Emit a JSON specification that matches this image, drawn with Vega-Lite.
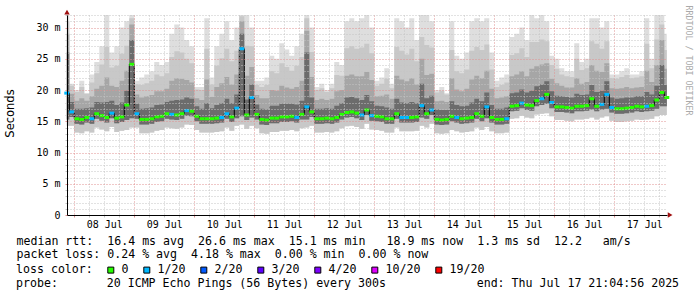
{
"$schema": "https://vega.github.io/schema/vega-lite/v6.json",
"width": 600, "height": 200,
"autosize": "none",
"padding": {"left": 67, "top": 15, "right": 30, "bottom": 82},
"background": "#ffffff",
"config": {"view": {"stroke": null}, "axis": {"labelFont": "DejaVu Sans Mono", "labelFontSize": 10, "labelColor": "#000000"}},
"title": {"text": "probe:\u00a0\u00a0\u00a0\u00a0\u00a0\u00a0\u00a020 ICMP Echo Pings (56 Bytes) every 300s\u00a0\u00a0\u00a0\u00a0\u00a0\u00a0\u00a0\u00a0\u00a0\u00a0\u00a0\u00a0\u00a0end: Thu Jul 17 21:04:56 2025",
 "orient": "bottom", "anchor": "start", "frame": "group", "dx": -51, "offset": 2, "baseline": "top",
 "font": "DejaVu Sans Mono", "fontSize": 11.6, "fontWeight": "normal", "color": "#000000"},
"data": {"values": [
{"t":"2025-07-07T21:00","m":19.5,"l":"1/20","lo":14.3,"lo2":15.3,"c":26,"b":29,"a":31,"mx":32},
{"t":"2025-07-07T23:00","m":16.5,"l":"1/20","lo":14.3,"lo2":15.7,"c":18.1,"b":19.4,"a":20.7,"mx":21},
{"t":"2025-07-08T01:00","m":15.4,"l":"0","lo":13.2,"lo2":14.6,"c":17.0,"b":18.3,"a":19.7,"mx":20},
{"t":"2025-07-08T03:00","m":15.3,"l":"0","lo":13.1,"lo2":14.5,"c":17.0,"b":18.7,"a":20.5,"mx":21.5},
{"t":"2025-07-08T05:00","m":15.6,"l":"0","lo":13.4,"lo2":14.8,"c":17.1,"b":18.3,"a":19.4,"mx":19.5},
{"t":"2025-07-08T07:00","m":15.4,"l":"1/20","lo":13.2,"lo2":14.6,"c":17.2,"b":19.0,"a":21.2,"mx":22.5},
{"t":"2025-07-08T09:00","m":16.2,"l":"0","lo":14.0,"lo2":15.4,"c":18.1,"b":20.2,"a":22.7,"mx":24.5},
{"t":"2025-07-08T11:00","m":15.9,"l":"0","lo":13.7,"lo2":15.1,"c":18.0,"b":20.7,"a":24.1,"mx":27},
{"t":"2025-07-08T13:00","m":15.6,"l":"0","lo":13.4,"lo2":14.8,"c":18.1,"b":22.0,"a":26.9,"mx":32},
{"t":"2025-07-08T15:00","m":16.3,"l":"1/20","lo":14.1,"lo2":15.5,"c":18.3,"b":20.7,"a":23.6,"mx":26},
{"t":"2025-07-08T17:00","m":15.5,"l":"0","lo":13.3,"lo2":14.7,"c":17.6,"b":20.5,"a":23.9,"mx":27},
{"t":"2025-07-08T19:00","m":15.7,"l":"0","lo":13.5,"lo2":14.9,"c":18.0,"b":21.5,"a":25.8,"mx":30},
{"t":"2025-07-08T21:00","m":17.6,"l":"0","lo":13.6,"lo2":15.2,"c":19.9,"b":23.1,"a":27.1,"mx":31},
{"t":"2025-07-08T23:00","m":24.1,"l":"0","lo":14.0,"lo2":15.5,"c":28,"b":30.5,"a":31.5,"mx":32},
{"t":"2025-07-09T01:00","m":16.2,"l":"1/20","lo":14.0,"lo2":15.4,"c":17.8,"b":19.3,"a":20.9,"mx":21.5},
{"t":"2025-07-09T03:00","m":15.3,"l":"0","lo":13.1,"lo2":14.5,"c":17.0,"b":18.8,"a":20.8,"mx":22},
{"t":"2025-07-09T05:00","m":15.3,"l":"0","lo":13.1,"lo2":14.5,"c":17.1,"b":19.0,"a":21.1,"mx":22.5},
{"t":"2025-07-09T07:00","m":15.4,"l":"0","lo":13.2,"lo2":14.6,"c":17.2,"b":19.2,"a":21.5,"mx":23},
{"t":"2025-07-09T09:00","m":15.7,"l":"0","lo":13.5,"lo2":14.9,"c":17.6,"b":19.8,"a":22.5,"mx":24.5},
{"t":"2025-07-09T11:00","m":15.8,"l":"0","lo":13.6,"lo2":15.0,"c":17.7,"b":19.8,"a":22.2,"mx":24},
{"t":"2025-07-09T13:00","m":16.2,"l":"0","lo":14.0,"lo2":15.4,"c":18.1,"b":20.2,"a":22.7,"mx":24.5},
{"t":"2025-07-09T15:00","m":16.1,"l":"1/20","lo":13.9,"lo2":15.3,"c":18.3,"b":21.5,"a":25.3,"mx":29},
{"t":"2025-07-09T17:00","m":16.0,"l":"0","lo":13.8,"lo2":15.2,"c":18.4,"b":21.9,"a":26.2,"mx":30.5},
{"t":"2025-07-09T19:00","m":16.2,"l":"0","lo":14.0,"lo2":15.4,"c":18.5,"b":21.8,"a":26.0,"mx":30},
{"t":"2025-07-09T21:00","m":16.7,"l":"1/20","lo":14.5,"lo2":15.9,"c":18.8,"b":21.6,"a":25.0,"mx":28},
{"t":"2025-07-09T23:00","m":16.6,"l":"0","lo":14.4,"lo2":15.8,"c":18.6,"b":21.2,"a":24.3,"mx":27},
{"t":"2025-07-10T01:00","m":15.8,"l":"0","lo":13.6,"lo2":15.0,"c":17.4,"b":18.7,"a":20.1,"mx":20.5},
{"t":"2025-07-10T03:00","m":15.4,"l":"0","lo":13.2,"lo2":14.6,"c":17.0,"b":18.4,"a":20.0,"mx":20.5},
{"t":"2025-07-10T05:00","m":15.4,"l":"0","lo":13.2,"lo2":14.6,"c":17.9,"b":21.7,"a":26.6,"mx":31.5},
{"t":"2025-07-10T07:00","m":15.4,"l":"0","lo":13.2,"lo2":14.6,"c":17.1,"b":18.9,"a":20.9,"mx":22},
{"t":"2025-07-10T09:00","m":15.5,"l":"0","lo":13.3,"lo2":14.7,"c":17.6,"b":20.5,"a":23.9,"mx":27},
{"t":"2025-07-10T11:00","m":15.6,"l":"1/20","lo":13.4,"lo2":14.8,"c":17.9,"b":21.1,"a":25.1,"mx":29},
{"t":"2025-07-10T13:00","m":16.2,"l":"1/20","lo":14.0,"lo2":15.4,"c":18.6,"b":22.1,"a":26.6,"mx":31},
{"t":"2025-07-10T15:00","m":15.7,"l":"0","lo":13.5,"lo2":14.9,"c":17.9,"b":20.9,"a":24.6,"mx":28},
{"t":"2025-07-10T17:00","m":17.1,"l":"1/20","lo":14.3,"lo2":15.5,"c":19.3,"b":22.5,"a":26.3,"mx":30},
{"t":"2025-07-10T19:00","m":26.6,"l":"1/20","lo":14.5,"lo2":15.8,"c":29,"b":31,"a":31.8,"mx":32},
{"t":"2025-07-10T21:00","m":16.0,"l":"0","lo":13.8,"lo2":15.2,"c":18.5,"b":22.3,"a":27.1,"mx":32},
{"t":"2025-07-10T23:00","m":18.8,"l":"1/20","lo":14.3,"lo2":15.6,"c":20.9,"b":23.7,"a":27.0,"mx":30},
{"t":"2025-07-11T01:00","m":16.1,"l":"0","lo":13.9,"lo2":15.3,"c":17.7,"b":19.2,"a":20.8,"mx":21.5},
{"t":"2025-07-11T03:00","m":15.3,"l":"0","lo":13.1,"lo2":14.5,"c":17.0,"b":18.7,"a":20.5,"mx":21.5},
{"t":"2025-07-11T05:00","m":15.2,"l":"0","lo":13.0,"lo2":14.4,"c":16.9,"b":18.7,"a":20.8,"mx":22},
{"t":"2025-07-11T07:00","m":15.5,"l":"0","lo":13.3,"lo2":14.7,"c":17.5,"b":20.0,"a":23.0,"mx":25.5},
{"t":"2025-07-11T09:00","m":15.5,"l":"0","lo":13.3,"lo2":14.7,"c":17.5,"b":19.9,"a":22.7,"mx":25},
{"t":"2025-07-11T11:00","m":15.7,"l":"0","lo":13.5,"lo2":14.9,"c":17.8,"b":20.7,"a":24.3,"mx":27.5},
{"t":"2025-07-11T13:00","m":15.7,"l":"0","lo":13.5,"lo2":14.9,"c":17.8,"b":20.4,"a":23.7,"mx":26.5},
{"t":"2025-07-11T15:00","m":15.8,"l":"0","lo":13.6,"lo2":15.0,"c":17.8,"b":20.2,"a":23.1,"mx":25.5},
{"t":"2025-07-11T17:00","m":15.6,"l":"1/20","lo":13.4,"lo2":14.8,"c":17.7,"b":20.5,"a":23.9,"mx":27},
{"t":"2025-07-11T19:00","m":16.1,"l":"0","lo":13.9,"lo2":15.3,"c":18.3,"b":21.5,"a":25.3,"mx":29},
{"t":"2025-07-11T21:00","m":17.3,"l":"1/20","lo":14.0,"lo2":15.3,"c":26,"b":29.5,"a":31.5,"mx":32},
{"t":"2025-07-11T23:00","m":16.5,"l":"0","lo":14.3,"lo2":15.7,"c":18.8,"b":22.1,"a":26.1,"mx":30},
{"t":"2025-07-12T01:00","m":15.4,"l":"0","lo":13.2,"lo2":14.6,"c":17.0,"b":18.4,"a":20.0,"mx":20.5},
{"t":"2025-07-12T03:00","m":15.4,"l":"0","lo":13.2,"lo2":14.6,"c":17.0,"b":18.6,"a":20.3,"mx":21},
{"t":"2025-07-12T05:00","m":15.5,"l":"0","lo":13.3,"lo2":14.7,"c":17.1,"b":18.4,"a":19.7,"mx":20},
{"t":"2025-07-12T07:00","m":15.4,"l":"0","lo":13.2,"lo2":14.6,"c":17.0,"b":18.6,"a":20.3,"mx":21},
{"t":"2025-07-12T09:00","m":15.6,"l":"0","lo":13.4,"lo2":14.8,"c":17.5,"b":19.8,"a":22.4,"mx":24.5},
{"t":"2025-07-12T11:00","m":16.1,"l":"0","lo":13.9,"lo2":15.3,"c":17.9,"b":20.0,"a":22.3,"mx":24},
{"t":"2025-07-12T13:00","m":16.4,"l":"0","lo":14.2,"lo2":15.6,"c":18.8,"b":22.3,"a":26.7,"mx":31},
{"t":"2025-07-12T15:00","m":16.5,"l":"0","lo":14.3,"lo2":15.7,"c":18.9,"b":22.5,"a":27.0,"mx":31.5},
{"t":"2025-07-12T17:00","m":16.3,"l":"0","lo":14.1,"lo2":15.5,"c":18.7,"b":22.2,"a":26.6,"mx":31},
{"t":"2025-07-12T19:00","m":16.0,"l":"1/20","lo":13.8,"lo2":15.2,"c":18.4,"b":22.2,"a":26.8,"mx":31.5},
{"t":"2025-07-12T21:00","m":16.8,"l":"0","lo":14.6,"lo2":16.0,"c":19.2,"b":22.9,"a":27.4,"mx":32},
{"t":"2025-07-12T23:00","m":15.9,"l":"1/20","lo":13.7,"lo2":15.1,"c":18.2,"b":21.6,"a":25.9,"mx":30},
{"t":"2025-07-13T01:00","m":15.8,"l":"0","lo":13.6,"lo2":15.0,"c":17.5,"b":19.0,"a":20.7,"mx":21.5},
{"t":"2025-07-13T03:00","m":15.7,"l":"0","lo":13.5,"lo2":14.9,"c":17.4,"b":19.1,"a":21.0,"mx":22},
{"t":"2025-07-13T05:00","m":15.4,"l":"0","lo":13.2,"lo2":14.6,"c":17.2,"b":19.3,"a":21.8,"mx":23.5},
{"t":"2025-07-13T07:00","m":15.4,"l":"0","lo":13.2,"lo2":14.6,"c":17.0,"b":18.6,"a":20.3,"mx":21},
{"t":"2025-07-13T09:00","m":16.2,"l":"0","lo":14.0,"lo2":15.4,"c":18.6,"b":22.3,"a":26.9,"mx":31.5},
{"t":"2025-07-13T11:00","m":15.6,"l":"1/20","lo":13.4,"lo2":14.8,"c":18.0,"b":21.7,"a":26.3,"mx":31},
{"t":"2025-07-13T13:00","m":15.6,"l":"1/20","lo":13.4,"lo2":14.8,"c":17.9,"b":21.4,"a":25.7,"mx":30},
{"t":"2025-07-13T15:00","m":15.6,"l":"0","lo":13.4,"lo2":14.8,"c":18.1,"b":21.9,"a":26.6,"mx":31.5},
{"t":"2025-07-13T17:00","m":15.7,"l":"0","lo":13.5,"lo2":14.9,"c":17.9,"b":20.9,"a":24.6,"mx":28},
{"t":"2025-07-13T19:00","m":17.5,"l":"1/20","lo":14.3,"lo2":15.6,"c":21.0,"b":25.0,"a":28.5,"mx":32},
{"t":"2025-07-13T21:00","m":16.2,"l":"0","lo":14.0,"lo2":15.4,"c":18.7,"b":22.4,"a":27.2,"mx":32},
{"t":"2025-07-13T23:00","m":16.8,"l":"1/20","lo":14.6,"lo2":16.0,"c":19.1,"b":22.6,"a":26.8,"mx":31},
{"t":"2025-07-14T01:00","m":15.3,"l":"0","lo":13.1,"lo2":14.5,"c":16.9,"b":18.2,"a":19.6,"mx":20},
{"t":"2025-07-14T03:00","m":15.2,"l":"0","lo":13.0,"lo2":14.4,"c":16.8,"b":18.3,"a":19.9,"mx":20.5},
{"t":"2025-07-14T05:00","m":15.3,"l":"0","lo":13.1,"lo2":14.5,"c":16.8,"b":18.1,"a":19.3,"mx":19.5},
{"t":"2025-07-14T07:00","m":15.8,"l":"0","lo":13.6,"lo2":15.0,"c":18.2,"b":21.9,"a":26.4,"mx":31},
{"t":"2025-07-14T09:00","m":15.6,"l":"1/20","lo":13.4,"lo2":14.8,"c":17.6,"b":20.1,"a":23.0,"mx":25.5},
{"t":"2025-07-14T11:00","m":15.4,"l":"0","lo":13.2,"lo2":14.6,"c":17.4,"b":19.8,"a":22.7,"mx":25},
{"t":"2025-07-14T13:00","m":15.5,"l":"0","lo":13.3,"lo2":14.7,"c":17.5,"b":20.2,"a":23.3,"mx":26},
{"t":"2025-07-14T15:00","m":15.6,"l":"0","lo":13.4,"lo2":14.8,"c":18.0,"b":21.7,"a":26.3,"mx":31},
{"t":"2025-07-14T17:00","m":16.2,"l":"0","lo":14.0,"lo2":15.4,"c":18.6,"b":22.3,"a":26.9,"mx":31.5},
{"t":"2025-07-14T19:00","m":15.8,"l":"0","lo":13.6,"lo2":15.0,"c":18.2,"b":21.9,"a":26.4,"mx":31},
{"t":"2025-07-14T21:00","m":17.3,"l":"1/20","lo":14.1,"lo2":15.5,"c":19.6,"b":23.1,"a":27.3,"mx":31.5},
{"t":"2025-07-14T23:00","m":15.6,"l":"0","lo":13.4,"lo2":14.8,"c":17.6,"b":20.2,"a":23.3,"mx":26},
{"t":"2025-07-15T01:00","m":15.3,"l":"0","lo":13.1,"lo2":14.5,"c":17.0,"b":18.7,"a":20.5,"mx":21.5},
{"t":"2025-07-15T03:00","m":15.3,"l":"0","lo":13.1,"lo2":14.5,"c":17.0,"b":18.8,"a":20.8,"mx":22},
{"t":"2025-07-15T05:00","m":15.4,"l":"1/20","lo":13.2,"lo2":14.6,"c":17.2,"b":19.0,"a":21.2,"mx":22.5},
{"t":"2025-07-15T07:00","m":17.4,"l":"0","lo":15.4,"lo2":16.6,"c":19.5,"b":22.2,"a":25.6,"mx":28.5},
{"t":"2025-07-15T09:00","m":17.5,"l":"0","lo":15.5,"lo2":16.7,"c":19.6,"b":22.5,"a":25.9,"mx":29},
{"t":"2025-07-15T11:00","m":17.9,"l":"1/20","lo":15.9,"lo2":17.1,"c":20.1,"b":23.0,"a":26.7,"mx":30},
{"t":"2025-07-15T13:00","m":17.6,"l":"0","lo":15.6,"lo2":16.8,"c":19.6,"b":22.2,"a":25.3,"mx":28},
{"t":"2025-07-15T15:00","m":17.5,"l":"0","lo":15.5,"lo2":16.7,"c":19.9,"b":23.4,"a":27.7,"mx":32},
{"t":"2025-07-15T17:00","m":18.3,"l":"0","lo":16.1,"lo2":17.4,"c":20.6,"b":23.8,"a":27.7,"mx":31.5},
{"t":"2025-07-15T19:00","m":18.6,"l":"1/20","lo":16.2,"lo2":17.6,"c":20.9,"b":24.1,"a":28.1,"mx":32},
{"t":"2025-07-15T21:00","m":19.3,"l":"0","lo":16.3,"lo2":17.8,"c":21.4,"b":24.3,"a":27.8,"mx":31},
{"t":"2025-07-15T23:00","m":18.0,"l":"1/20","lo":15.8,"lo2":17.1,"c":19.8,"b":21.8,"a":24.0,"mx":25.5},
{"t":"2025-07-16T01:00","m":17.3,"l":"0","lo":15.2,"lo2":16.5,"c":19.1,"b":21.1,"a":23.4,"mx":25},
{"t":"2025-07-16T03:00","m":17.3,"l":"0","lo":15.2,"lo2":16.5,"c":19.0,"b":20.7,"a":22.5,"mx":23.5},
{"t":"2025-07-16T05:00","m":17.2,"l":"0","lo":15.1,"lo2":16.4,"c":18.9,"b":20.4,"a":22.2,"mx":23},
{"t":"2025-07-16T07:00","m":17.1,"l":"0","lo":15.0,"lo2":16.3,"c":18.8,"b":20.4,"a":22.1,"mx":23},
{"t":"2025-07-16T09:00","m":17.4,"l":"0","lo":15.3,"lo2":16.6,"c":19.4,"b":21.9,"a":25.0,"mx":27.5},
{"t":"2025-07-16T11:00","m":17.4,"l":"0","lo":15.3,"lo2":16.6,"c":19.2,"b":21.0,"a":23.2,"mx":24.5},
{"t":"2025-07-16T13:00","m":17.5,"l":"0","lo":15.4,"lo2":16.7,"c":19.3,"b":21.3,"a":23.5,"mx":25},
{"t":"2025-07-16T15:00","m":18.6,"l":"0","lo":15.6,"lo2":16.9,"c":20.8,"b":24.0,"a":27.8,"mx":31.5},
{"t":"2025-07-16T17:00","m":17.4,"l":"0","lo":15.3,"lo2":16.6,"c":19.7,"b":23.1,"a":27.4,"mx":31.5},
{"t":"2025-07-16T19:00","m":17.7,"l":"1/20","lo":15.6,"lo2":16.9,"c":19.9,"b":22.9,"a":26.6,"mx":30},
{"t":"2025-07-16T21:00","m":19.3,"l":"1/20","lo":15.8,"lo2":17.0,"c":21.4,"b":24.3,"a":27.8,"mx":31},
{"t":"2025-07-16T23:00","m":17.2,"l":"1/20","lo":15.1,"lo2":16.4,"c":18.8,"b":20.3,"a":21.9,"mx":22.5},
{"t":"2025-07-17T01:00","m":17.0,"l":"0","lo":14.9,"lo2":16.2,"c":18.6,"b":20.2,"a":21.8,"mx":22.5},
{"t":"2025-07-17T03:00","m":17.0,"l":"0","lo":14.9,"lo2":16.2,"c":18.7,"b":20.3,"a":22.1,"mx":23},
{"t":"2025-07-17T05:00","m":17.1,"l":"0","lo":15.0,"lo2":16.3,"c":18.8,"b":20.5,"a":22.4,"mx":23.5},
{"t":"2025-07-17T07:00","m":17.2,"l":"0","lo":15.1,"lo2":16.4,"c":18.8,"b":20.3,"a":21.9,"mx":22.5},
{"t":"2025-07-17T09:00","m":17.4,"l":"0","lo":15.3,"lo2":16.6,"c":19.0,"b":20.4,"a":22.0,"mx":22.5},
{"t":"2025-07-17T11:00","m":17.3,"l":"0","lo":15.2,"lo2":16.5,"c":19.0,"b":20.5,"a":22.2,"mx":23},
{"t":"2025-07-17T13:00","m":17.4,"l":"1/20","lo":15.3,"lo2":16.6,"c":19.7,"b":23.1,"a":27.4,"mx":31.5},
{"t":"2025-07-17T15:00","m":17.5,"l":"0","lo":15.4,"lo2":16.7,"c":19.3,"b":21.3,"a":23.5,"mx":25},
{"t":"2025-07-17T17:00","m":18.4,"l":"0","lo":15.8,"lo2":17.0,"c":20.7,"b":24.0,"a":28.1,"mx":32},
{"t":"2025-07-17T19:00","m":19.6,"l":"0","lo":16.0,"lo2":17.4,"c":24,"b":28,"a":30.5,"mx":32},
{"t":"2025-07-17T21:00","m":18.8,"l":"0","lo":16.0,"lo2":17.4,"c":20.8,"b":23.4,"a":26.4,"mx":29}
]},
"encoding": {
 "x": {"field": "t", "type": "temporal",
  "scale": {"domain": [{"year": 2025, "month": 7, "date": 7, "hours": 21, "minutes": 5}, {"year": 2025, "month": 7, "date": 17, "hours": 21, "minutes": 5}], "nice": false},
  "title": ["median rtt:\u00a0\u00a016.4 ms avg\u00a0\u00a026.6 ms max\u00a0\u00a015.1 ms min\u00a0\u00a0\u00a018.9 ms now\u00a0\u00a01.3 ms sd\u00a0\u00a012.2\u00a0\u00a0\u00a0am/s", "packet loss: 0.24 % avg\u00a0\u00a04.18 % max\u00a0\u00a00.00 % min\u00a0\u00a00.00 % now"],
  "axis": {
   "tickCount": 40,
   "labelExpr": "hours(datum.value) == 0 ? timeFormat(datum.value, '%d %b') : ''",
   "labelOffset": 30, "labelFlush": false, "labelOverlap": false, "labelPadding": 2,
   "grid": true,
   "gridColor": {"condition": {"test": "hours(datum.value) == 0", "value": "#e09090"}, "value": "#c4c4c4"},
   "gridDash": [1, 2],
   "tickColor": {"condition": {"test": "hours(datum.value) == 0", "value": "#e09090"}, "value": "#c4c4c4"},
   "tickSize": 2,
   "domainColor": "#000000",
   "zindex": 1,
   "titleX": -51, "titleY": 20, "titleAlign": "left", "titleBaseline": "top",
   "titleFont": "DejaVu Sans Mono", "titleFontSize": 11.6, "titleFontWeight": "normal", "titleColor": "#000000"
  }
 }
},
"layer": [
 {"mark": {"type": "area", "interpolate": "step", "color": "#dedede"},
  "encoding": {
   "y": {"field": "mx", "type": "quantitative", "scale": {"domain": [0, 32], "nice": false},
    "axis": {
     "values": [0,1,2,3,4,5,6,7,8,9,10,11,12,13,14,15,16,17,18,19,20,21,22,23,24,25,26,27,28,29,30,31,32],
     "labelExpr": "datum.value % 5 == 0 ? (datum.value == 0 ? '0' : datum.value + ' m') : ''",
     "labelPadding": 5, "labelOverlap": false, "labelFlush": false,
     "grid": true,
     "gridColor": {"condition": {"test": "datum.value % 5 == 0", "value": "#e09090"}, "value": "#c4c4c4"},
     "gridDash": [1, 2],
     "tickColor": {"condition": {"test": "datum.value % 5 == 0", "value": "#e09090"}, "value": "#c4c4c4"},
     "tickSize": 2,
     "domainColor": "#000000",
     "zindex": 1,
     "title": "Seconds", "titleX": -57, "titleY": 98, "titleAngle": 270, "titleAlign": "center", "titleBaseline": "middle",
     "titleFont": "DejaVu Sans", "titleFontSize": 11.5, "titleFontWeight": "normal", "titleColor": "#000000"
    }},
   "y2": {"field": "lo"}
  }},
 {"mark": {"type": "area", "interpolate": "step", "color": "#c8c8c8"},
  "encoding": {"y": {"field": "a", "type": "quantitative", "scale": {"domain": [0, 32], "nice": false}, "axis": null}, "y2": {"field": "lo"}}},
 {"mark": {"type": "area", "interpolate": "step", "color": "#a6a6a6"},
  "encoding": {"y": {"field": "b", "type": "quantitative", "scale": {"domain": [0, 32], "nice": false}, "axis": null}, "y2": {"field": "lo2"}}},
 {"mark": {"type": "area", "interpolate": "step", "color": "#6c6c6c"},
  "encoding": {"y": {"field": "c", "type": "quantitative", "scale": {"domain": [0, 32], "nice": false}, "axis": null}, "y2": {"field": "lo2"}}},
 {"mark": {"type": "line", "interpolate": "step", "color": "#000000", "strokeWidth": 1},
  "encoding": {"y": {"field": "m", "type": "quantitative", "scale": {"domain": [0, 32], "nice": false}, "axis": null}}},
 {"mark": {"type": "tick", "orient": "horizontal", "thickness": 3, "size": 5, "opacity": 1},
  "encoding": {
   "y": {"field": "m", "type": "quantitative", "scale": {"domain": [0, 32], "nice": false}, "axis": null},
   "color": {"field": "l", "type": "nominal",
    "scale": {"domain": ["0", "1/20", "2/20", "3/20", "4/20", "10/20", "19/20"], "range": ["#26ff00", "#00b8ff", "#0059ff", "#5e00ff", "#7e00ff", "#dd00ff", "#ff0000"]},
    "legend": {"orient": "none", "legendX": -51, "legendY": 249, "direction": "horizontal", "columns": 7,
     "title": "loss color:", "titleOrient": "left", "titlePadding": 12, "titleAnchor": "start", "titleBaseline": "top",
     "titleFont": "DejaVu Sans Mono", "titleFontSize": 11.6, "titleFontWeight": "normal", "titleColor": "#000000",
     "symbolType": "square", "symbolSize": 36, "symbolStrokeColor": "#000000", "symbolStrokeWidth": 1, "symbolOpacity": 1,
     "labelFont": "DejaVu Sans Mono", "labelFontSize": 11.6, "labelColor": "#000000", "labelOffset": 5, "columnPadding": 12, "padding": 0, "labelLimit": 300,
     "encode": {"symbols": {"update": {"stroke": {"value": "#000000"}, "strokeWidth": {"value": 1}}}}}}
  }},
 {"data": {"values": [{"t": "2025-07-07T21:05", "v": 32.45}]},
  "mark": {"type": "point", "shape": "triangle-up", "filled": true, "clip": false, "color": "#a01010", "size": 30, "opacity": 1},
  "encoding": {
   "y": {"field": "v", "type": "quantitative", "scale": {"domain": [0, 32], "nice": false},
    "axis": {"orient": "right", "title": "RRDTOOL / TOBI OETIKER", "labels": false, "ticks": false, "domain": false, "grid": false,
     "titleAngle": 90, "titleX": 20, "titleY": 45, "titleAlign": "center", "titleBaseline": "middle",
     "titleFont": "DejaVu Sans Mono", "titleFontSize": 8.3, "titleFontWeight": "normal", "titleColor": "#aaaaaa"}}
  }},
 {"data": {"values": [{"t": "2025-07-17T22:20", "v": 0}]},
  "mark": {"type": "point", "shape": "triangle-right", "filled": true, "clip": false, "color": "#a01010", "size": 30, "opacity": 1},
  "encoding": {
   "y": {"field": "v", "type": "quantitative", "scale": {"domain": [0, 32], "nice": false}, "axis": null}
  }}
],
"resolve": {"axis": {"y": "independent"}}
}
